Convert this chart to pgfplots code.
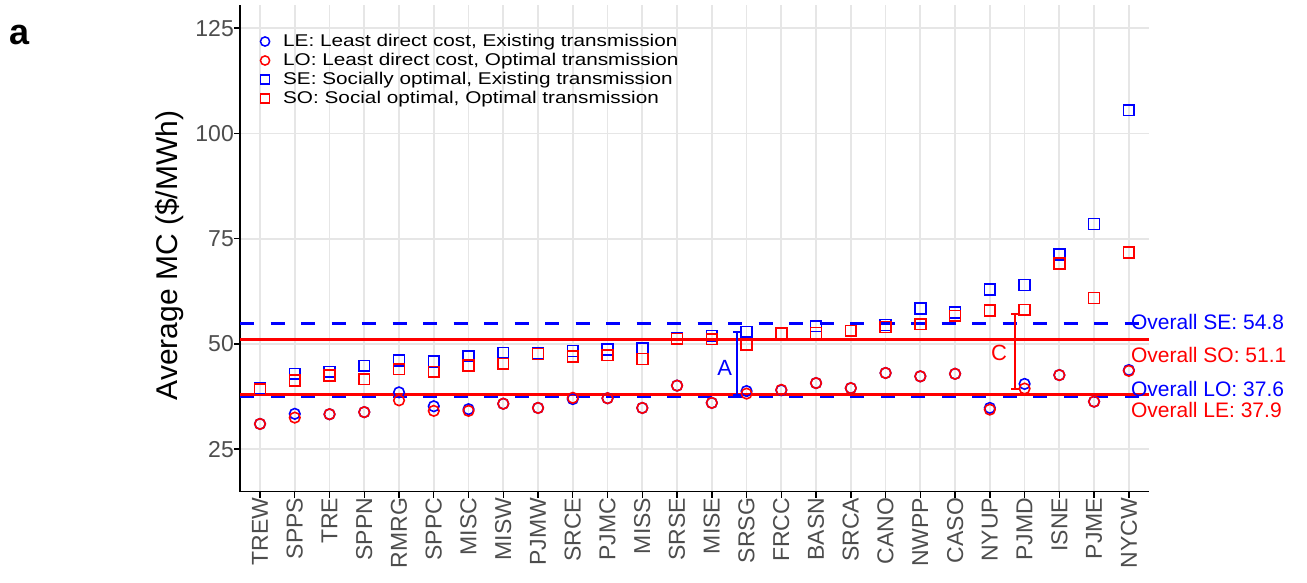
\documentclass[border=0pt]{standalone}
\usepackage{fontspec}
\setmainfont{Liberation Sans}
\newfontfamily\legfont[FakeStretch=1.22]{Liberation Sans}
\usepackage{pgfplots}
\usepackage{pgfplotstable}
\pgfplotsset{compat=1.18}
\definecolor{tickgray}{HTML}{4D4D4D}
\definecolor{gridgray}{HTML}{E6E6E6}
\definecolor{pblue}{HTML}{0000FF}
\definecolor{pred}{HTML}{FF0000}

\pgfplotstableread{
idx LE LO SE SO
0 31.0 31.0 39.4 39.2
1 33.4 32.5 42.9 41.3
2 33.3 33.3 43.4 42.5
3 33.8 33.8 44.8 41.6
4 38.5 36.6 46.1 44.0
5 35.2 34.1 45.8 43.4
6 34.5 34.1 47.1 44.9
7 35.8 35.8 47.9 45.3
8 34.8 34.8 47.8 47.6
9 36.9 37.2 48.3 47.0
10 37.1 37.1 48.7 47.3
11 34.8 34.8 49.0 46.4
12 40.1 40.1 51.3 51.2
13 36.0 36.0 51.9 51.1
14 38.8 38.2 52.9 49.8
15 39.0 39.1 52.5 52.5
16 40.7 40.7 54.2 52.6
17 39.5 39.5 53.1 53.1
18 43.1 43.1 54.5 54.0
19 42.3 42.3 58.4 54.7
20 42.9 42.9 57.5 56.7
21 34.8 34.4 62.9 57.9
22 40.5 39.4 64.0 58.1
23 42.6 42.6 71.2 69.1
24 36.3 36.3 78.5 60.9
25 43.8 43.6 105.5 71.7
}\datatable

\begin{document}
\begin{tikzpicture}
\useasboundingbox (0pt,0pt) rectangle (1307pt,582pt);
\begin{axis}[
  at={(240pt,90.3pt)}, anchor=south west,
  scale only axis, width=909pt, height=486.7pt,
  xmin=-0.576, xmax=25.58, ymin=14.9, ymax=130.5,
  axis x line=bottom, axis y line=left,
  axis line style={-, line width=1.4pt, black},
  xtick={0,...,25},
  xticklabels={TREW,SPPS,TRE,SPPN,RMRG,SPPC,MISC,MISW,PJMW,SRCE,PJMC,MISS,SRSE,MISE,SRSG,FRCC,BASN,SRCA,CANO,NWPP,CASO,NYUP,PJMD,ISNE,PJME,NYCW},
  ytick={25,50,75,100,125},
  /pgf/number format/assume math mode=true,
  tick align=outside, major tick length=6pt,
  tick style={black, line width=1.4pt},
  xmajorgrids, ymajorgrids,
  grid style={gridgray, line width=1.8pt},
  xticklabel style={rotate=90, anchor=east, inner sep=0pt, font=\fontsize{23}{23}\selectfont, text=tickgray},
  yticklabel style={anchor=east, inner sep=0pt, font=\fontsize{23}{23}\selectfont, text=tickgray},
  ylabel={Average MC (\$/MWh)},
  ylabel style={font=\fontsize{30}{30}\selectfont, at={(axis description cs:-0.0693,0.4853)}, anchor=base, rotate=0},
  clip=false,
  legend cell align=left,
  legend style={at={(axis description cs:0.0225,0.9445)}, anchor=north west, draw=none, fill=none,
    inner sep=0pt, outer sep=0pt,
    font=\legfont\fontsize{17}{17}\selectfont,
    nodes={text height=12.5pt, text depth=3.5pt, inner sep=1.5pt},
    /tikz/every odd column/.append style={column sep=12pt}},
]
% overall lines
\addplot[pblue, line width=2.8pt, dash pattern=on 14pt off 16.5pt, forget plot] coordinates {(-0.576,54.8) (25.58,54.8)};
\addplot[pred, line width=2.8pt, forget plot] coordinates {(-0.576,51.1) (25.58,51.1)};
\addplot[pblue, line width=2.8pt, dash pattern=on 14pt off 16.5pt, forget plot] coordinates {(-0.576,37.6) (25.58,37.6)};
\addplot[pred, line width=2.8pt, forget plot] coordinates {(-0.576,37.9) (25.58,37.9)};
% gap bars
\addplot[pblue, line width=2pt, mark=-, mark size=4pt, forget plot] coordinates {(13.73,37.9) (13.73,52.9)};
\addplot[pred, line width=2pt, mark=-, mark size=4pt, forget plot] coordinates {(21.72,39.2) (21.72,57.2)};
% points
\addplot[only marks, mark=o, pblue, mark size=5.3pt, line width=1.6pt, forget plot] table[x=idx, y=LE] {\datatable};
\addplot[only marks, mark=o, pred, mark size=5.3pt, line width=1.6pt, forget plot] table[x=idx, y=LO] {\datatable};
\addplot[only marks, mark=square, pblue, mark size=5.4pt, line width=1.6pt, forget plot] table[x=idx, y=SE] {\datatable};
\addplot[only marks, mark=square, pred, mark size=5.4pt, line width=1.6pt, forget plot] table[x=idx, y=SO] {\datatable};
% legend
\addlegendimage{only marks, mark=o, pblue, mark size=4.6pt, line width=1.5pt}
\addlegendentry{LE: Least direct cost, Existing transmission}
\addlegendimage{only marks, mark=o, pred, mark size=4.6pt, line width=1.5pt}
\addlegendentry{LO: Least direct cost, Optimal transmission}
\addlegendimage{only marks, mark=square, pblue, mark size=4.6pt, line width=1.5pt}
\addlegendentry{SE: Socially optimal, Existing transmission}
\addlegendimage{only marks, mark=square, pred, mark size=4.6pt, line width=1.5pt}
\addlegendentry{SO: Social optimal, Optimal transmission}
% labels
\node[anchor=base west, text=pblue, font=\fontsize{21}{21}\selectfont, inner sep=0pt] at (axis cs:25.06,53.5) {Overall SE: 54.8};
\node[anchor=base west, text=pred, font=\fontsize{21}{21}\selectfont, inner sep=0pt] at (axis cs:25.06,45.55) {Overall SO: 51.1};
\node[anchor=base west, text=pblue, font=\fontsize{21}{21}\selectfont, inner sep=0pt] at (axis cs:25.06,37.62) {Overall LO: 37.6};
\node[anchor=base west, text=pred, font=\fontsize{21}{21}\selectfont, inner sep=0pt] at (axis cs:25.06,32.45) {Overall LE: 37.9};
\node[anchor=base east, text=pblue, font=\fontsize{22}{22}\selectfont, inner sep=0pt] at (axis cs:13.59,42.4) {A};
\node[anchor=base east, text=pred, font=\fontsize{22}{22}\selectfont, inner sep=0pt] at (axis cs:21.5,46.1) {C};
\end{axis}
\node[anchor=base west, inner sep=0pt, font=\bfseries\fontsize{36}{36}\selectfont] at (9pt,537pt) {a};
\end{tikzpicture}
\end{document}
